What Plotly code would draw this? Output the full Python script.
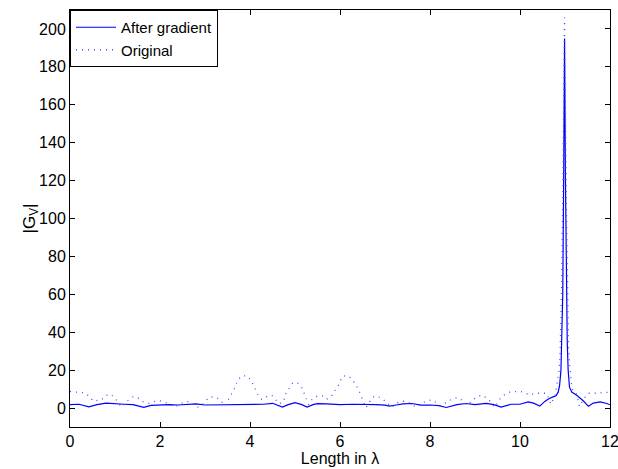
import plotly.graph_objects as go

# After gradient (solid)
x_grad = [0.0, 0.2, 0.42, 0.6, 0.8, 1.0, 1.2, 1.4, 1.64, 1.8, 2.0, 2.2, 2.4, 2.6, 2.8, 3.0,
          3.3, 3.6, 3.9, 4.1, 4.3, 4.5, 4.72, 4.85, 5.0, 5.15, 5.27, 5.4, 5.5, 5.7, 6.0,
          6.3, 6.5, 6.8, 7.0, 7.1, 7.25, 7.4, 7.6, 7.8, 8.0, 8.2, 8.36, 8.5, 8.6, 8.8, 9.0,
          9.25, 9.42, 9.58, 9.8, 10.0, 10.18, 10.3, 10.44, 10.55, 10.65, 10.75, 10.8, 10.85,
          10.88, 10.91, 10.93, 10.95, 10.97, 10.99, 11.01, 11.03, 11.05, 11.07, 11.1, 11.15,
          11.26, 11.41, 11.52, 11.63, 11.78, 11.93, 12.0]
y_grad = [1.8, 2.0, 0.6, 1.8, 2.6, 2.2, 2.0, 1.8, 0.4, 1.4, 1.6, 1.8, 1.6, 1.9, 2.2, 1.6,
          1.7, 1.9, 2.2, 2.1, 2.0, 2.5, 0.5, 1.8, 2.8, 1.8, 0.5, 1.8, 2.3, 2.2, 1.8,
          2.0, 2.0, 1.8, 1.5, 1.0, 1.6, 2.2, 2.4, 1.5, 1.6, 1.3, 0.3, 1.2, 1.8, 2.4, 1.8,
          2.5, 1.8, 0.5, 2.0, 2.0, 3.2, 2.6, 1.0, 3.5, 5.0, 6.0, 6.5, 8.5,
          12, 20, 35, 60, 120, 195, 120, 60, 35, 20, 11, 8.4,
          6.7, 3.7, 0.9, 2.6, 3.2, 2.4, 1.7]

# Original (dotted)
x_orig = [0.0, 0.15, 0.33, 0.44, 0.51, 0.7, 0.78, 0.9, 0.99, 1.08, 1.14, 1.3, 1.4, 1.51, 1.6,
          1.75, 1.87, 2.0, 2.12, 2.33, 2.55, 2.66, 2.77, 2.84, 2.96, 3.03, 3.11, 3.26, 3.36,
          3.44, 3.52, 3.58, 3.65, 3.73, 3.82, 3.93, 4.02, 4.13, 4.18, 4.26, 4.37, 4.48, 4.57,
          4.64, 4.74, 4.8, 4.87, 4.94, 5.05, 5.15, 5.24, 5.3, 5.38, 5.5, 5.61, 5.7, 5.8, 5.89,
          5.96, 6.05, 6.16, 6.26, 6.33, 6.41, 6.48, 6.53, 6.58, 6.63, 6.72, 6.79, 6.9, 7.0,
          7.07, 7.15, 7.24, 7.35, 7.48, 7.58, 7.69, 7.8, 7.91, 8.04, 8.13, 8.22, 8.41, 8.5,
          8.63, 8.73, 8.83, 8.93, 9.04, 9.16, 9.3, 9.4, 9.44, 9.56, 9.67, 9.78, 9.89, 10.0,
          10.11, 10.22, 10.33, 10.44, 10.59, 10.69, 10.78, 10.81, 10.85, 10.87, 10.89, 10.9,
          10.92, 10.95, 10.99, 11.03, 11.06, 11.08, 11.1, 11.15, 11.19, 11.26, 11.32, 11.42,
          11.52, 11.63, 11.74, 11.85, 11.98]
y_orig = [8.7, 8.5, 8.0, 6.0, 3.7, 4.3, 6.4, 7.3, 5.5, 2.8, 0.5, 4.3, 5.9, 5.5, 3.4,
          2.5, 3.4, 3.8, 3.0, 0.5, 3.4, 3.4, 1.2, 0.5, 2.2, 4.3, 6.0, 5.5, 3.7,
          1.2, 4.6, 7.3, 10.0, 14.9, 17.0, 17.0, 14.9, 9.5, 6.8, 4.6, 6.0, 6.8, 4.6,
          2.3, 3.2, 7.8, 10.4, 13.0, 13.5, 10.8, 5.5, 1.8, 4.6, 6.4, 6.4, 4.6, 6.0, 9.0,
          11.8, 16.6, 17.2, 15.5, 12.8, 10.0, 5.5, 2.3, 0.2, 2.3, 5.5, 6.4, 5.5, 3.7,
          2.0, 0.4, 2.3, 3.7, 3.4, 2.2, 0.4, 2.0, 3.7, 4.3, 3.0, 1.2, 3.4, 5.0,
          5.5, 3.7, 1.5, 3.7, 6.0, 6.8, 4.6, 1.5, 0.4, 5.0, 7.3, 8.5, 8.8, 8.8,
          8.0, 6.8, 7.8, 7.8, 7.8, 2.0, 6.9, 11, 16, 20, 28, 37,
          58, 110, 206, 110, 50, 32, 24, 11, 8.6, 7.3, 0.8, 5.0,
          7.8, 7.8, 7.8, 8.3, 8.3]

x_ticks = [0, 2, 4, 6, 8, 10, 12]
y_ticks = [0, 20, 40, 60, 80, 100, 120, 140, 160, 180, 200]

fig = go.Figure()
fig.add_trace(go.Scatter(x=x_grad, y=y_grad, mode="lines", name="After gradient",
                         line=dict(color="#0000ff", width=1.2)))
fig.add_trace(go.Scatter(x=x_orig, y=y_orig, mode="lines", name="Original",
                         line=dict(color="#4d4dff", width=1.3, dash="1px,5px")))

axis_common = dict(showgrid=False, zeroline=False, showline=True, linecolor="black",
                   linewidth=1, mirror="ticks", ticks="inside", ticklen=5,
                   tickcolor="black", tickfont=dict(size=16, color="black"),
                   ticklabeloverflow="allow", automargin=False)

fig.update_layout(
    width=618, height=469,
    margin=dict(l=70, r=8, t=10, b=42),
    paper_bgcolor="white", plot_bgcolor="white",
    font=dict(family="Liberation Sans, Arial, sans-serif", size=16, color="black"),
    xaxis=dict(range=[0, 12], tickvals=x_ticks, ticktext=[str(v) for v in x_ticks],
               title=dict(text="Length in λ", standoff=0, font=dict(size=16)), **axis_common),
    yaxis=dict(range=[-10, 210], tickvals=y_ticks, ticktext=[str(v) for v in y_ticks],
               **axis_common),
    legend=dict(x=0, y=1, xanchor="left", yanchor="top", bgcolor="white",
                bordercolor="black", borderwidth=1, font=dict(size=15),
                tracegroupgap=0, itemwidth=40),
    showlegend=True,
    annotations=[dict(text="|G<sub>V</sub>|", textangle=-90, xref="paper", yref="paper",
                      x=-40 / 540, y=0.5, xanchor="center", yanchor="middle",
                      showarrow=False, font=dict(size=17, color="black"))],
)

fig.write_html("out.html")
